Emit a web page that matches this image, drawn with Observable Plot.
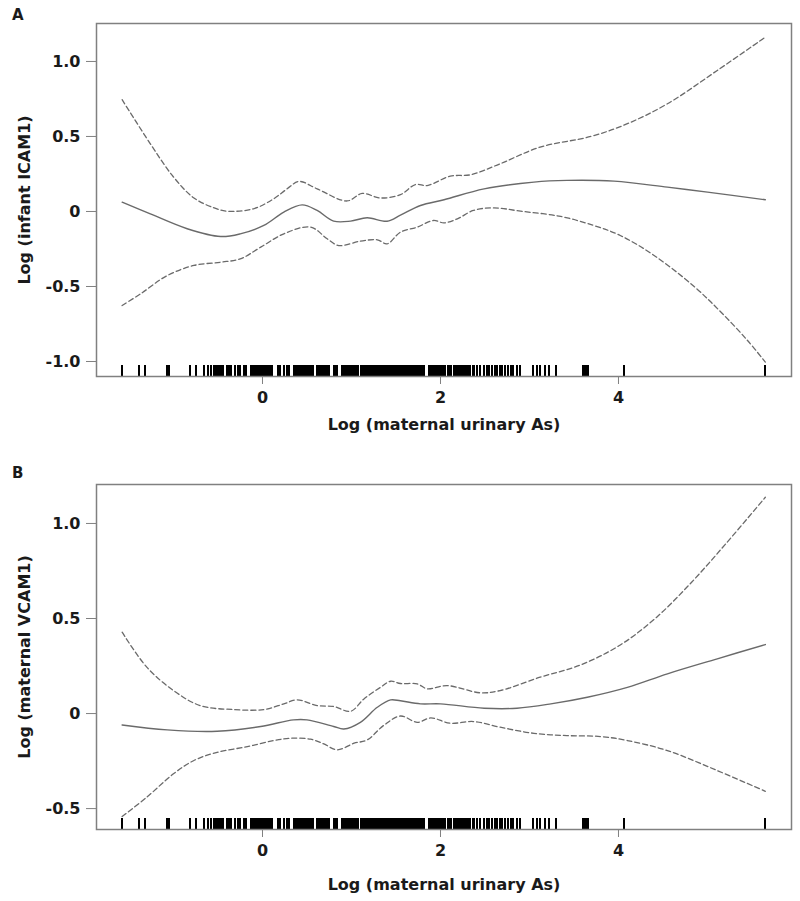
<!DOCTYPE html>
<html>
<head>
<meta charset="utf-8">
<script src="https://cdn.jsdelivr.net/npm/d3@7"></script>
<script src="https://cdn.jsdelivr.net/npm/@observablehq/plot@0.6"></script>
<style>
  html, body { margin: 0; padding: 0; background: #fff; }
  #wrap { position: relative; width: 800px; height: 901px; font-family: "DejaVu Sans", sans-serif; }
  .panel { position: absolute; left: 0; }
  .letter { position: absolute; left: 12px; font-weight: bold; font-size: 15px; color: #1a1a1a; line-height: 1; }
</style>
</head>
<body>
<div id="wrap">
  <div class="panel" id="pa" style="top:0px"></div>
  <div class="panel" id="pb" style="top:445px"></div>
  <div class="letter" style="top:8px">A</div>
  <div class="letter" style="top:466px">B</div>
</div>
<script>
// ---------- Data ----------
const xTicks = [0, 2, 4];
const xTickLabels = ["0", "2", "4"];
const xLabel = "Log (maternal urinary As)";

const aYTicks = [-1, -0.5, 0, 0.5, 1];
const aYTickLabels = ["-1.0", "-0.5", "0", "0.5", "1.0"];
const aYLabel = "Log (infant ICAM1)";

const bYTicks = [-0.5, 0, 0.5, 1];
const bYTickLabels = ["-0.5", "0", "0.5", "1.0"];
const bYLabel = "Log (maternal VCAM1)";

// Rug of observed log maternal urinary As
const rug = [
  -1.577,-1.39,-1.315,-1.071,-1.052,-0.82,-0.742,-0.66,-0.614,-0.577,
  -0.55,-0.53,-0.51,-0.49,
  -0.47,-0.44,-0.40,-0.38,-0.35,-0.31,-0.28,-0.25,-0.21,-0.18,
  -0.13,-0.11,-0.09,-0.07,-0.05,-0.03,-0.01,0.01,0.03,0.05,0.07,0.09,0.11,
  0.17,0.20,0.24,0.27,0.30,
  0.35,0.37,0.39,0.41,0.43,0.45,0.47,0.49,0.51,0.53,0.55,0.57,
  0.61,0.63,0.65,0.67,0.69,0.71,0.73,0.75,
  0.80,0.82,0.84,
  0.89,0.91,0.93,0.95,0.97,0.99,1.01,1.03,1.05,1.07,
  1.11,1.13,1.15,1.17,1.19,1.21,1.23,1.25,1.27,1.29,1.31,1.33,1.35,1.37,1.39,1.41,1.43,1.45,1.47,1.49,1.51,1.53,1.55,1.57,1.59,1.61,
  1.64,1.66,1.68,1.70,1.72,1.74,1.76,1.78,1.80,1.82,
  1.87,1.89,1.91,1.93,1.95,1.97,1.99,2.01,2.03,2.05,
  2.08,2.10,2.12,
  2.15,2.17,2.19,2.21,2.23,2.25,2.27,2.29,2.31,2.33,
  2.36,2.38,2.41,2.44,2.49,2.52,2.54,2.58,2.61,2.64,2.67,2.69,2.73,2.76,2.79,2.82,2.86,2.89,
  3.04,3.09,3.12,3.17,3.22,3.30,
  3.60,3.62,3.64,3.66,
  4.06,
  5.65
];

// Panel A: infant ICAM1
const aFitX = [-1.577,-1.26,-0.846,-0.47,-0.25,0.015,0.24,0.446,0.614,0.80,0.99,1.176,1.40,1.55,1.775,2.04,2.49,3.05,3.42,3.95,4.55,5.0,5.65];
const aFitY = [0.062,-0.016,-0.115,-0.167,-0.149,-0.093,-0.004,0.044,0.007,-0.064,-0.064,-0.042,-0.065,-0.025,0.04,0.078,0.151,0.196,0.207,0.202,0.162,0.129,0.078];
const aUpX = [-1.577,-1.26,-1.0,-0.77,-0.55,-0.40,-0.10,0.127,0.277,0.41,0.614,0.95,1.12,1.326,1.55,1.72,1.85,2.11,2.34,2.67,3.12,3.69,4.10,4.55,5.11,5.65];
const aUpY = [0.745,0.451,0.23,0.09,0.025,0.002,0.018,0.085,0.151,0.2,0.151,0.07,0.12,0.09,0.112,0.18,0.173,0.235,0.245,0.318,0.429,0.50,0.585,0.718,0.94,1.162];
const aLoX = [-1.577,-1.37,-1.07,-0.77,-0.47,-0.25,-0.02,0.24,0.54,0.727,0.857,1.10,1.29,1.40,1.55,1.74,1.92,2.04,2.19,2.37,2.60,2.90,3.35,3.72,4.02,4.40,4.85,5.15,5.45,5.65];
const aLoY = [-0.627,-0.549,-0.427,-0.36,-0.338,-0.316,-0.238,-0.149,-0.104,-0.182,-0.227,-0.198,-0.189,-0.216,-0.138,-0.104,-0.06,-0.076,-0.049,0.007,0.024,0.002,-0.033,-0.093,-0.16,-0.293,-0.50,-0.67,-0.86,-1.004];

// Panel B: maternal VCAM1
const bFitX = [-1.577,-1.07,-0.51,-0.02,0.35,0.50,0.80,0.914,1.10,1.29,1.44,1.55,1.775,2.0,2.49,2.86,3.24,3.65,4.10,4.55,5.11,5.65];
const bFitY = [-0.06,-0.086,-0.093,-0.068,-0.033,-0.033,-0.068,-0.081,-0.046,0.033,0.072,0.067,0.051,0.051,0.028,0.028,0.051,0.086,0.138,0.209,0.288,0.363];
const bUpX = [-1.577,-1.30,-1.0,-0.70,-0.32,0.015,0.24,0.39,0.614,0.80,0.99,1.14,1.326,1.44,1.55,1.74,1.85,2.075,2.45,2.67,3.12,3.57,4.0,4.4,4.8,5.2,5.65];
const bUpY = [0.428,0.244,0.121,0.042,0.021,0.021,0.051,0.072,0.042,0.037,0.012,0.077,0.138,0.17,0.158,0.156,0.13,0.147,0.109,0.121,0.191,0.255,0.355,0.495,0.68,0.89,1.138];
const bLoX = [-1.577,-1.30,-1.0,-0.77,-0.51,-0.17,0.127,0.315,0.54,0.69,0.84,1.03,1.176,1.36,1.55,1.74,1.89,2.11,2.37,2.67,3.05,3.42,3.80,4.10,4.55,5.11,5.65];
const bLoY = [-0.542,-0.44,-0.317,-0.247,-0.204,-0.174,-0.142,-0.13,-0.135,-0.16,-0.191,-0.156,-0.139,-0.063,-0.013,-0.046,-0.023,-0.051,-0.042,-0.072,-0.104,-0.116,-0.121,-0.142,-0.195,-0.30,-0.409];

// ---------- Drawing ----------
const pts = (X, Y) => X.map((x, i) => [x, Y[i]]);
const FONT = "'DejaVu Sans', sans-serif";
const LINE = "#6a6a6a";
const FRAME = "#808080";

function panel({height, mt, mb, yDomain, yTicks, yTickLabels, yLabel, xLabelOffset, fit, up, lo}) {
  const frameH = height - mt - mb;
  const yFmt = (d) => yTickLabels[yTicks.indexOf(d)];
  const xFmt = (d) => xTickLabels[xTicks.indexOf(d)];
  return Plot.plot({
    width: 800,
    height,
    marginTop: mt,
    marginBottom: mb,
    marginLeft: 96,
    marginRight: 9,
    style: {fontFamily: FONT, fontSize: "16px", fontWeight: "bold", color: "#1a1a1a", background: "white"},
    x: {domain: [-1.865, 5.944]},
    y: {domain: yDomain},
    marks: [
      Plot.ruleX(rug, {x: (d) => d, insetTop: frameH - 11, stroke: "#000", strokeWidth: 2, shapeRendering: "crispEdges"}),
      Plot.line(pts(lo[0], lo[1]), {curve: "catmull-rom", stroke: LINE, strokeWidth: 1.3, strokeDasharray: "5,3"}),
      Plot.line(pts(up[0], up[1]), {curve: "catmull-rom", stroke: LINE, strokeWidth: 1.3, strokeDasharray: "5,3"}),
      Plot.line(pts(fit[0], fit[1]), {curve: "catmull-rom", stroke: LINE, strokeWidth: 1.4}),
      Plot.frame({stroke: FRAME, strokeWidth: 1.5}),
      Plot.axisX({ticks: xTicks, tickFormat: xFmt, tickSize: 8, tickPadding: 7, stroke: FRAME, fill: "#1a1a1a",
        label: xLabel, labelAnchor: "center", labelOffset: xLabelOffset, labelArrow: "none"}),
      Plot.axisY({ticks: yTicks, tickFormat: yFmt, tickSize: 10, tickPadding: 6, stroke: FRAME, fill: "#1a1a1a",
        label: yLabel, labelAnchor: "center", labelOffset: 78, labelArrow: "none"})
    ]
  });
}

document.getElementById("pa").append(panel({
  height: 445, mt: 23, mb: 69, yDomain: [-1.1, 1.253],
  yTicks: aYTicks, yTickLabels: aYTickLabels, yLabel: aYLabel, xLabelOffset: 53,
  fit: [aFitX, aFitY], up: [aUpX, aUpY], lo: [aLoX, aLoY]
}));
document.getElementById("pb").append(panel({
  height: 456, mt: 39, mb: 72, yDomain: [-0.61, 1.205],
  yTicks: bYTicks, yTickLabels: bYTickLabels, yLabel: bYLabel, xLabelOffset: 60,
  fit: [bFitX, bFitY], up: [bUpX, bUpY], lo: [bLoX, bLoY]
}));
</script>
</body>
</html>
